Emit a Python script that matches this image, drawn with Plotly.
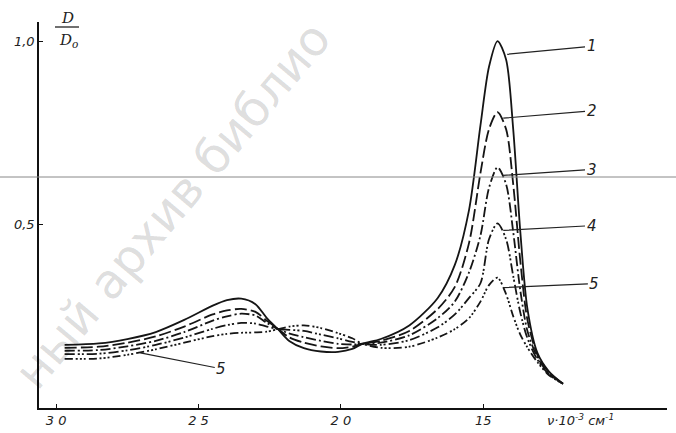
import plotly.graph_objects as go

# wavenumber (10^3 cm^-1) and relative optical density D/D0 for curves 1..5
nu = [29.7, 28.5, 27.5, 26.5, 25.5, 24.5, 24.0, 23.5, 23.0, 22.6, 22.2, 21.8, 21.3,
      20.7, 20.1, 19.6, 19.25, 18.6, 17.6, 16.6, 16.0, 15.5, 15.1, 14.8, 14.5, 14.2,
      13.95, 13.7, 13.45, 13.1, 12.7, 12.2]

curve1 = [0.172, 0.176, 0.188, 0.207, 0.240, 0.279, 0.294, 0.298, 0.283, 0.245, 0.214,
          0.182, 0.163, 0.154, 0.153, 0.161, 0.175, 0.188, 0.225, 0.300, 0.390, 0.540,
          0.770, 0.930, 1.000, 0.950, 0.760, 0.480, 0.270, 0.150, 0.100, 0.066]
curve2 = [0.164, 0.167, 0.178, 0.195, 0.222, 0.255, 0.266, 0.270, 0.262, 0.238, 0.215,
          0.192, 0.178, 0.168, 0.163, 0.167, 0.175, 0.183, 0.210, 0.270, 0.330, 0.450,
          0.640, 0.760, 0.806, 0.760, 0.610, 0.400, 0.240, 0.145, 0.097, 0.066]
curve3 = [0.156, 0.158, 0.168, 0.183, 0.207, 0.238, 0.250, 0.257, 0.252, 0.232, 0.215,
          0.203, 0.193, 0.183, 0.175, 0.173, 0.175, 0.178, 0.198, 0.245, 0.290, 0.370,
          0.470, 0.600, 0.656, 0.610, 0.480, 0.320, 0.210, 0.138, 0.094, 0.066]
curve4 = [0.147, 0.148, 0.157, 0.172, 0.192, 0.216, 0.226, 0.232, 0.230, 0.222, 0.215,
          0.213, 0.210, 0.200, 0.190, 0.180, 0.175, 0.172, 0.185, 0.220, 0.255, 0.300,
          0.340, 0.460, 0.503, 0.460, 0.360, 0.260, 0.190, 0.132, 0.092, 0.066]
curve5 = [0.134, 0.135, 0.145, 0.160, 0.178, 0.196, 0.202, 0.205, 0.206, 0.208, 0.215,
          0.222, 0.225, 0.218, 0.204, 0.190, 0.175, 0.164, 0.167, 0.192, 0.215, 0.245,
          0.290, 0.335, 0.355, 0.310, 0.250, 0.200, 0.165, 0.125, 0.090, 0.066]

series = [curve1, curve2, curve3, curve4, curve5]
dashes = ["solid", "12px,4px", "10px,3px,2px,3px", "10px,3px,2px,2px,2px,3px",
          "8px,3px,2px,2px,2px,2px,2px,3px"]

x_ticks = [30, 25, 20, 15]
x_ticktext = ["<i>3 0</i>", "<i>2 5</i>", "<i>2 0</i>", "<i>15</i>"]
y_ticks = [0.5, 1.0]
y_ticktext = ["<i>0,5</i>", "<i>1,0</i>"]

# curve labels: (text, point nu, point D, label nu, label D)
labels = [("1", 14.16, 0.964, 11.2, 0.986),
          ("2", 14.30, 0.790, 11.2, 0.810),
          ("3", 14.30, 0.634, 11.2, 0.650),
          ("4", 14.30, 0.484, 11.2, 0.497),
          ("5", 14.30, 0.328, 11.1, 0.339),
          ("5", 27.04, 0.150, 24.2, 0.107)]

W, H, L, R, T, B = 676, 433, 39, 9, 22, 25
pw, ph = W - L - R, H - T - B
def px2paper(x, y):
    return (x - L) / pw, (H - B - y) / ph

fig = go.Figure()
for ys, d in zip(series, dashes):
    fig.add_trace(go.Scatter(x=nu, y=ys, mode="lines",
                             line=dict(color="#151515", width=1.8, dash=d, shape="spline", smoothing=0.8),
                             showlegend=False, hoverinfo="skip"))

ann = []
# watermark (behind)
wx, wy = px2paper(172, 205)
ann.append(dict(x=wx, y=wy, xref="paper", yref="paper", xanchor="center", yanchor="middle",
                text="ный архив библио", showarrow=False, textangle=-50,
                font=dict(family="DejaVu Sans", size=48, color="rgba(0,0,0,0.14)")))

for t, px, py, lx, ly in labels:
    ann.append(dict(x=px, y=py, xref="x", yref="y", ax=lx, ay=ly, axref="x", ayref="y",
                    text="<i>" + t + "</i>", showarrow=True, arrowhead=0, arrowwidth=1.2, arrowcolor="#222",
                    font=dict(family="DejaVu Sans", size=15, color="#222"), standoff=0, startstandoff=0))

# D / D0 label
dx, dy = px2paper(67, 18)
ann.append(dict(x=dx, y=dy, xref="paper", yref="paper", xanchor="center", yanchor="middle",
                text="<i>D</i>", showarrow=False, font=dict(family="DejaVu Serif", size=15, color="#222")))
dx, dy = px2paper(68, 40)
ann.append(dict(x=dx, y=dy, xref="paper", yref="paper", xanchor="center", yanchor="middle",
                text="<i>D<sub>o</sub></i>", showarrow=False, font=dict(family="DejaVu Serif", size=15, color="#222")))
# axis title
ax_, ay_ = px2paper(580, 420)
ann.append(dict(x=ax_, y=ay_, xref="paper", yref="paper", xanchor="center", yanchor="middle",
                text="<i>ν·10<sup>-3</sup> см<sup>-1</sup></i>",
                showarrow=False, font=dict(family="DejaVu Sans", size=13, color="#222")))

shapes = []
fx0, fy0 = px2paper(55, 27)
fx1, _ = px2paper(79, 27)
shapes.append(dict(type="line", xref="paper", yref="paper", x0=fx0, x1=fx1, y0=fy0, y1=fy0,
                   line=dict(color="#222", width=1.3)))
sx0, sy = px2paper(0, 177)
sx1, _ = px2paper(676, 177)
shapes.append(dict(type="line", xref="paper", yref="paper", x0=sx0, x1=sx1, y0=sy, y1=sy,
                   line=dict(color="#888", width=1), layer="above"))

fig.update_layout(
    width=W, height=H, margin=dict(l=L, r=R, t=T, b=B, autoexpand=False),
    paper_bgcolor="white", plot_bgcolor="white",
    annotations=ann, shapes=shapes,
    xaxis=dict(range=[30.6, 8.55], showgrid=False, zeroline=False, showline=True,
               linecolor="#111", linewidth=1.5, ticks="inside", ticklen=4, tickcolor="#111",
               tickvals=x_ticks, ticktext=x_ticktext, ticklabelstandoff=0, automargin=False,
               tickfont=dict(family="DejaVu Sans", size=13, color="#222")),
    yaxis=dict(range=[0, 1.052], showgrid=False, zeroline=False, showline=True,
               linecolor="#111", linewidth=1.5, ticks="inside", ticklen=4, tickcolor="#111",
               tickvals=y_ticks, ticktext=y_ticktext, automargin=False,
               tickfont=dict(family="DejaVu Sans", size=13, color="#222")),
)

fig.write_html("out.html")
